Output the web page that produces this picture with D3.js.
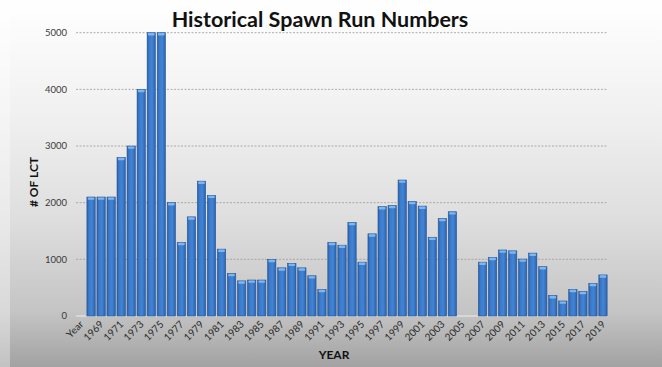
<!DOCTYPE html>
<html>
<head>
<meta charset="utf-8">
<script src="https://cdn.jsdelivr.net/npm/d3@7"></script>
<style>
  body { margin: 0; }
  svg { display: block; }
</style>
</head>
<body>
<div id="chart"></div>
<script>
const categories = ["Year",
  "1968", "1969", "1970", "1971", "1972", "1973", "1974", "1975", "1976", "1977",
  "1978", "1979", "1980", "1981", "1982", "1983", "1984", "1985", "1986", "1987",
  "1988", "1989", "1990", "1991", "1992", "1993", "1994", "1995", "1996", "1997",
  "1998", "1999", "2000", "2001", "2002", "2003", "2004", "2005", "2006", "2007",
  "2008", "2009", "2010", "2011", "2012", "2013", "2014", "2015", "2016", "2017",
  "2018", "2019"];

const lctCounts = [null,
  2100, 2100, 2100, 2800, 3000, 4000, 5000, 5000, 2000, 1300,
  1750, 2380, 2130, 1180, 750, 620, 635, 635, 1000, 850,
  930, 850, 710, 470, 1300, 1250, 1650, 950, 1450, 1930,
  1950, 2400, 2020, 1940, 1390, 1720, 1840, null, null, 950,
  1035, 1165, 1150, 1005, 1110, 870, 360, 265, 470, 435,
  575, 725];

const yTicks = [0, 1000, 2000, 3000, 4000, 5000];

const W = 662, H = 367;
const plot = { left: 76, right: 608, top: 32.7, bottom: 316 };

const svg = d3.select("#chart").append("svg")
  .attr("width", W)
  .attr("height", H);

const defs = svg.append("defs");
const bg = defs.append("linearGradient").attr("id", "bg")
  .attr("x1", 0).attr("y1", 0).attr("x2", 0).attr("y2", 1);
[[0, "#ffffff"], [0.3, "#f1f1f1"], [0.6, "#dedede"], [0.85, "#c4c4c4"], [1, "#a2a2a2"]]
  .forEach(([o, c]) => bg.append("stop").attr("offset", o).attr("stop-color", c));

const barGrad = defs.append("linearGradient").attr("id", "bar")
  .attr("x1", 0).attr("y1", 0).attr("x2", 1).attr("y2", 0);
[[0, "#2a5ea6"], [0.25, "#3b7acb"], [0.6, "#4184d6"], [1, "#2c62ab"]]
  .forEach(([o, c]) => barGrad.append("stop").attr("offset", o).attr("stop-color", c));

svg.append("rect").attr("width", W).attr("height", H).attr("fill", "url(#bg)");
// light strip on the left edge
svg.append("rect").attr("width", 10).attr("height", H)
  .attr("fill", "#ffffff").attr("opacity", 0.35);

const x = d3.scaleBand()
  .domain(categories)
  .range([plot.left, plot.right])
  .paddingInner(0.17)
  .paddingOuter(0.085);

const y = d3.scaleLinear()
  .domain([0, 5000])
  .range([plot.bottom, plot.top]);

// gridlines
svg.append("g")
  .selectAll("line")
  .data(yTicks.filter((d) => d > 0))
  .enter()
  .append("line")
  .attr("x1", plot.left)
  .attr("x2", plot.right)
  .attr("y1", (d) => y(d))
  .attr("y2", (d) => y(d))
  .attr("stroke", "#9a9a9a")
  .attr("stroke-width", 0.8)
  .attr("stroke-dasharray", "2,1.5");

// baseline
svg.append("line")
  .attr("x1", plot.left).attr("x2", plot.right)
  .attr("y1", y(0)).attr("y2", y(0))
  .attr("stroke", "#eeeeee").attr("stroke-width", 1.2);

// y tick labels
svg.append("g")
  .selectAll("text")
  .data(yTicks)
  .enter()
  .append("text")
  .attr("x", 67)
  .attr("y", (d) => y(d))
  .attr("dy", "0.35em")
  .attr("text-anchor", "end")
  .style("font-family", "Lato, sans-serif")
  .style("font-size", "9.5px")
  .style("fill", "#3a3a3a")
  .text((d) => d);

// bars
const rows = categories.map((c, i) => ({ cat: c, val: lctCounts[i] }))
  .filter((d) => d.val != null);

const bars = svg.append("g")
  .selectAll("g")
  .data(rows)
  .enter()
  .append("g");

bars.append("rect")
  .attr("x", (d) => x(d.cat))
  .attr("y", (d) => y(d.val))
  .attr("width", x.bandwidth())
  .attr("height", (d) => y(0) - y(d.val))
  .attr("fill", "url(#bar)")
  .attr("stroke", "#2b5894")
  .attr("stroke-width", 0.6);

bars.append("rect")
  .attr("x", (d) => x(d.cat) + 0.8)
  .attr("y", (d) => y(d.val) + 0.4)
  .attr("width", x.bandwidth() - 1.6)
  .attr("height", 2.4)
  .attr("rx", 1)
  .attr("fill", "#7fb6ee");

// x tick labels (every other category)
svg.append("g")
  .selectAll("text")
  .data(categories.filter((d, i) => i % 2 === 0))
  .enter()
  .append("text")
  .attr("transform", (d) =>
    `translate(${x(d) + x.bandwidth() / 2 + 3}, ${plot.bottom + 9}) rotate(-45)`)
  .attr("text-anchor", "end")
  .style("font-family", "Lato, sans-serif")
  .style("font-size", "10px")
  .style("fill", "#2a2a2a")
  .text((d) => d);

// title
svg.append("text")
  .attr("x", 320)
  .attr("y", 27)
  .attr("text-anchor", "middle")
  .style("font-family", "Lato, sans-serif")
  .style("font-weight", "bold")
  .style("font-size", "21.5px")
  .style("fill", "#111")
  .text("Historical Spawn Run Numbers");

// axis titles
svg.append("text")
  .attr("transform", `translate(38, 182) rotate(-90)`)
  .attr("text-anchor", "middle")
  .style("font-family", "Lato, sans-serif")
  .style("font-weight", "bold")
  .style("font-size", "12px")
  .style("fill", "#111")
  .text("# OF LCT");

svg.append("text")
  .attr("x", 334)
  .attr("y", 359)
  .attr("text-anchor", "middle")
  .style("font-family", "Lato, sans-serif")
  .style("font-weight", "bold")
  .style("font-size", "12px")
  .style("fill", "#111")
  .text("YEAR");
</script>
</body>
</html>
